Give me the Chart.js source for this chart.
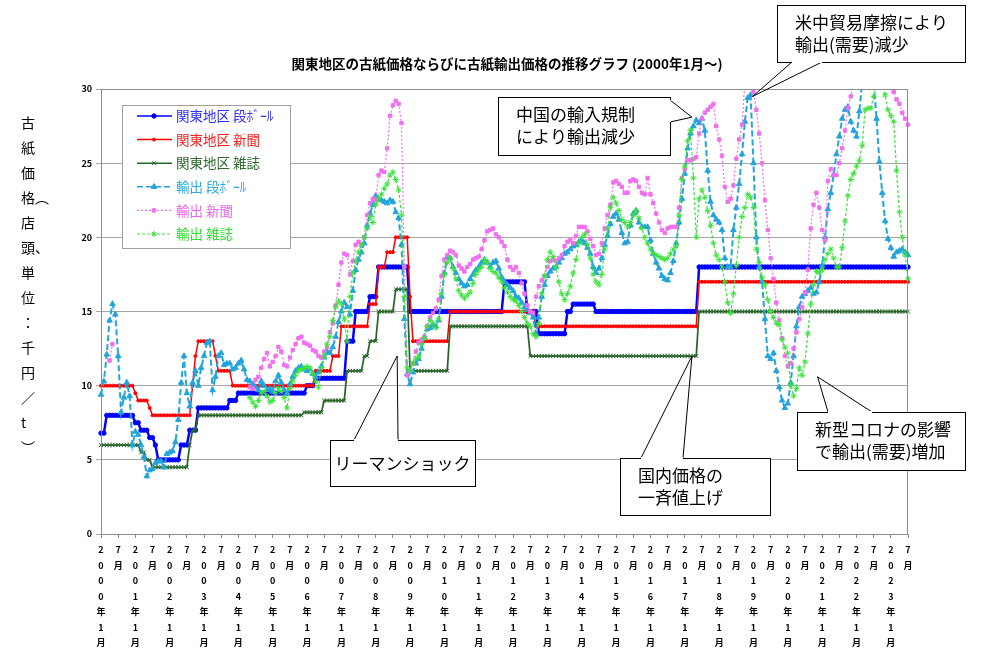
<!DOCTYPE html>
<html>
<head>
<meta charset="utf-8">
<script src="https://cdn.jsdelivr.net/npm/chart.js@4.4.0/dist/chart.umd.min.js"></script>
<style>
html, body { margin: 0; padding: 0; background: #fff; }
#wrap { width: 983px; height: 650px; position: relative; }
</style>
</head>
<body>
<div id="wrap"><canvas id="paper"></canvas></div>
<script>
// monthly categories 2000年1月 .. 2023年7月
var months = [];
for (var i = 0; i < 283; i++) {
  months.push((2000 + Math.floor(i / 12)) + '年' + (i % 12 + 1) + '月');
}
var yTicks = [0, 5, 10, 15, 20, 25, 30];

var kantoDan = [
  6.8,6.8,8,8,8,8,8,8,8,8,8,8,
  7.5,7.5,7,7,7,6.5,6.5,6,5,5,5,5,
  5,5,5,5,6,6,6,7,7,7,8.5,8.5,
  8.5,8.5,8.5,8.5,8.5,8.5,8.5,8.5,8.5,9,9,9,
  9.5,9.5,9.5,9.5,9.5,9.5,9.5,9.5,9.5,9.5,9.5,9.5,
  9.5,9.5,9.5,9.5,9.5,9.5,9.5,9.5,9.5,9.5,9.5,9.5,
  10,10,10,10.5,10.5,10.5,10.5,10.5,10.5,10.5,10.5,10.5,
  10.5,10.5,13,13,13,15,15,15,15,15,16,16,
  16,18,18,18,18,18,18,18,18,18,18,18,
  15,15,15,15,15,15,15,15,15,15,15,15,
  15,15,15,15,15,15,15,15,15,15,15,15,
  15,15,15,15,15,15,15,15,15,17,17,17,
  17,17,17,17,17,15,15,15,15,13.5,13.5,13.5,
  13.5,13.5,13.5,13.5,13.5,13.5,13.5,15,15,15.5,15.5,15.5,
  15.5,15.5,15.5,15.5,15.5,15,15,15,15,15,15,15,
  15,15,15,15,15,15,15,15,15,15,15,15,
  15,15,15,15,15,15,15,15,15,15,15,15,
  15,15,15,15,15,18,18,18,18,18,18,18,
  18,18,18,18,18,18,18,18,18,18,18,18,
  18,18,18,18,18,18,18,18,18,18,18,18,
  18,18,18,18,18,18,18,18,18,18,18,18,
  18,18,18,18,18,18,18,18,18,18,18,18,
  18,18,18,18,18,18,18,18,18,18,18,18,
  18,18,18,18,18,18,18
];
var kantoNews = [
  10,10,10,10,10,10,10,10,10,10,10,10,
  9.5,9,9,9,9,8.5,8,8,8,8,8,8,
  8,8,8,8,8,8,8,8,10,12,13,13,
  13,13,13,13,12,11,11,11,11,11,10,10,
  10,10,10,10,10,10,10,10,10,10,10,10,
  10,10,10,10,10,10,10,10,10,10,10,10,
  10,10,10,11,11,11,11,11,11,12,12,12,
  14,14,14,14,14,14,14,14,14,14,15.5,15.5,
  15.5,18,18,18,19,19,19,20,20,20,20,20,
  16,13,13,13,13,13,13,13,13,13,13,13,
  13,13,15,15,15,15,15,15,15,15,15,15,
  15,15,15,15,15,15,15,15,15,15,15,15,
  15,15,15,15,15,15,15,15,14,14,14,14,
  14,14,14,14,14,14,14,14,14,14,14,14,
  14,14,14,14,14,14,14,14,14,14,14,14,
  14,14,14,14,14,14,14,14,14,14,14,14,
  14,14,14,14,14,14,14,14,14,14,14,14,
  14,14,14,14,14,17,17,17,17,17,17,17,
  17,17,17,17,17,17,17,17,17,17,17,17,
  17,17,17,17,17,17,17,17,17,17,17,17,
  17,17,17,17,17,17,17,17,17,17,17,17,
  17,17,17,17,17,17,17,17,17,17,17,17,
  17,17,17,17,17,17,17,17,17,17,17,17,
  17,17,17,17,17,17,17
];
var kantoMag = [
  6,6,6,6,6,6,6,6,6,6,6,6,
  6,6,5.5,5.5,5,5,4.5,4.5,4.5,4.5,4.5,4.5,
  4.5,4.5,4.5,4.5,4.5,4.5,4.5,6,7,7,8,8,
  8,8,8,8,8,8,8,8,8,8,8,8,
  8,8,8,8,8,8,8,8,8,8,8,8,
  8,8,8,8,8,8,8,8,8,8,8,8.2,
  8.2,8.2,8.2,8.2,8.2,8.2,9,9,9,9,9,9,
  9,9,11,11,11,11,11,11,12,12,13,13,
  13,15,15,15,15,15,15,16.5,16.5,16.5,16.5,16.5,
  11,11,11,11,11,11,11,11,11,11,11,11,
  11,11,14,14,14,14,14,14,14,14,14,14,
  14,14,14,14,14,14,14,14,14,14,14,14,
  14,14,14,14,14,14,12,12,12,12,12,12,
  12,12,12,12,12,12,12,12,12,12,12,12,
  12,12,12,12,12,12,12,12,12,12,12,12,
  12,12,12,12,12,12,12,12,12,12,12,12,
  12,12,12,12,12,12,12,12,12,12,12,12,
  12,12,12,12,12,15,15,15,15,15,15,15,
  15,15,15,15,15,15,15,15,15,15,15,15,
  15,15,15,15,15,15,15,15,15,15,15,15,
  15,15,15,15,15,15,15,15,15,15,15,15,
  15,15,15,15,15,15,15,15,15,15,15,15,
  15,15,15,15,15,15,15,15,15,15,15,15,
  15,15,15,15,15,15,15
];
var exportDan = [
  9.4,10.3,12.1,14.4,15.5,14.8,12.0,8.2,9.2,10.2,9.3,6.0,
  6.9,6.7,6.0,5.2,3.9,4.3,4.4,4.8,4.9,4.9,4.5,5.4,
  5.5,5.6,6.2,7.7,10.2,12.0,9.5,8.6,10.2,11.0,10.0,11.2,
  12.0,12.9,13.0,9.7,10.6,12.0,12.2,11.4,11.5,11.5,11.1,11.2,
  11.5,11.7,11.1,10.4,10.3,10.1,9.9,9.7,10.3,10.0,9.7,9.8,
  9.6,10.3,10.7,10.2,9.7,9.5,10.1,10.6,11.0,11.2,11.3,11.1,
  11.0,11.1,10.8,10.6,10.9,11.3,11.9,12.3,12.2,12.6,13.3,14.3,
  15.0,15.6,15.3,14.8,16.4,17.8,18.5,19.0,19.6,20.8,21.6,22.2,
  22.8,22.6,22.5,22.4,22.3,22.5,22.4,21.7,21.3,19.5,14.5,10.8,
  10.1,10.9,11.5,11.8,12.5,13.3,13.8,13.9,14.1,14.0,14.4,16.0,
  17.6,18.7,18.6,18.0,17.6,17.2,16.9,16.7,16.8,17.2,17.5,17.8,
  18.0,18.3,18.5,18.3,18.0,18.3,18.4,17.9,17.3,17.0,16.8,16.6,
  16.4,16.0,15.9,15.6,15.3,15.1,14.9,14.6,13.5,14.6,16.0,16.8,
  17.4,17.7,17.9,18.0,18.3,18.6,18.9,19.0,19.2,19.4,19.5,19.7,
  19.8,19.6,19.3,18.9,18.0,17.6,17.9,18.6,19.5,20.1,20.9,21.4,
  21.6,21.2,20.3,19.6,19.7,20.8,21.6,21.8,21.0,20.7,20.7,20.7,
  19.8,18.9,18.3,17.9,17.4,17.2,17.1,17.6,18.4,19.6,21.0,22.6,
  24.3,26.0,27.0,27.5,27.9,27.7,28.0,27.2,24.5,22.4,21.5,21.2,
  21.0,20.5,18.6,18.0,18.0,20.5,22.0,23.6,25.6,27.8,29.4,29.6,
  25.0,20.0,18.0,17.0,14.5,12.0,11.8,12.2,11.0,9.9,9.0,8.5,
  8.8,10.2,12.0,14.0,15.3,16.0,16.2,16.4,16.6,16.2,16.3,17.0,
  18.1,20.0,21.9,23.0,24.2,25.6,26.8,28.0,28.6,28.8,27.8,27.2,
  26.8,28.5,30.5,31.5,31.8,31.0,30.5,28.0,25.1,23.0,21.1,19.9,
  19.3,18.7,19.0,19.1,19.2,19.0,18.8
];
var N = null;
var exportNews = [
  N,N,N,11.7,12.8,N,N,N,N,N,N,N,
  N,N,N,N,N,N,N,N,N,N,N,N,
  N,N,N,N,N,N,N,N,N,N,N,N,
  N,N,N,N,N,N,N,N,N,N,N,N,
  N,N,N,N,9.9,9.8,10.4,10.6,11.2,11.8,12.2,11.3,
  11.6,12.0,12.6,12.3,11.4,11.3,11.9,12.4,12.8,13.2,13.3,12.9,
  12.8,12.7,12.4,12.3,12.0,11.9,12.3,12.6,13.6,14.2,15.4,16.8,
  18.3,18.9,18.8,17.5,18.4,19.5,19.7,19.5,20.0,21.5,22.3,22.6,
  22.5,24.2,24.5,24.4,26.0,28.2,28.9,29.2,29.0,27.7,18.0,10.7,
  11.0,11.5,12.3,12.9,13.1,13.3,14.0,14.6,14.9,15.2,15.8,17.4,
  18.5,18.8,19.1,19.0,18.8,18.1,17.9,17.7,18.0,18.2,18.5,18.6,
  18.7,19.2,19.8,20.4,20.5,20.6,20.2,20.0,19.7,19.4,18.5,18.0,
  17.8,18.0,17.6,16.9,16.2,15.4,15.0,14.9,16.0,16.7,17.1,17.4,
  18.0,18.4,18.5,18.4,18.6,18.8,19.4,19.7,19.8,19.6,20.1,20.7,
  20.7,20.7,20.4,19.9,19.4,18.8,18.9,19.6,20.6,21.5,22.2,23.7,
  23.8,23.6,23.4,23.0,23.0,23.8,23.9,23.8,23.4,23.0,22.9,24.0,
  22.9,22.3,21.6,21.0,20.5,20.3,20.6,20.7,20.7,20.7,22.0,24.0,
  24.6,25.2,25.2,25.3,25.4,27.0,28.0,28.4,28.6,28.8,29.0,27.5,
  26.6,25.5,23.4,22.4,22.6,23.5,25.3,26.6,27.6,30.5,31.0,30.6,
  29.8,28.6,27.0,25.0,22.5,20.5,18.6,17.2,15.6,14.4,13.2,12.0,
  11.3,11.5,12.5,13.6,14.5,15.3,16.3,17.8,20.6,22.2,23.0,22.0,
  20.5,19.8,23.8,24.6,24.2,24.2,25.0,26.0,27.2,28.7,29.5,30.3,
  31.0,31.5,32.0,32.0,32.0,31.5,31.0,31.0,31.0,30.8,30.5,30.3,
  30.2,29.8,29.3,29.0,28.4,28.0,27.6
];
var exportMag = [
  N,N,N,N,N,N,N,N,N,N,N,N,
  N,N,N,N,N,N,N,N,N,N,N,N,
  N,N,N,N,N,N,N,N,N,N,N,N,
  N,N,N,N,N,N,N,N,N,N,N,N,
  N,N,N,N,9.2,8.9,8.6,9.0,9.5,9.6,9.3,8.9,
  9.0,9.5,9.8,9.6,9.2,8.5,9.8,10.3,10.7,11.0,11.1,11.2,
  11.3,11.2,10.8,10.3,9.9,11.2,12.0,12.8,13.3,14.4,15.3,15.7,
  15.5,14.5,13.0,16.0,17.6,18.4,19.0,19.5,20.0,20.6,21.4,21.0,
  22.2,22.6,22.9,23.3,23.6,24.2,24.4,23.9,23.2,21.5,16.0,11.2,
  11.0,11.5,11.8,12.0,12.8,13.2,14.0,14.4,14.2,13.9,14.5,16.2,
  17.5,18.3,18.6,17.9,17.2,16.4,16.1,15.9,16.1,16.3,16.9,17.5,
  17.8,18.0,18.5,18.3,17.9,17.7,17.6,17.3,17.0,16.6,16.3,16.0,
  15.8,15.7,15.4,15.0,14.6,14.2,14.0,13.5,13.3,14.2,16.2,17.4,
  18.5,19.0,18.7,18.0,17.0,16.2,15.8,16.2,16.7,17.6,18.5,19.6,
  20.0,20.2,19.5,18.6,17.5,17.0,16.8,17.5,19.2,20.6,22.0,22.7,
  22.3,21.8,21.2,21.0,20.7,21.0,21.5,21.8,21.3,20.6,20.0,19.6,
  19.2,18.9,18.8,18.7,18.6,18.5,18.6,18.9,19.2,19.4,21.5,23.9,
  24.8,26.5,27.2,24.0,20.0,22.6,23.2,22.7,21.8,20.8,19.6,18.8,
  18.5,18.0,17.0,15.6,14.9,16.2,18.1,20.0,21.4,22.0,22.9,22.7,
  22.0,19.2,18.3,17.3,16.8,15.8,15.0,14.6,14.2,14.1,13.1,12.6,
  12.2,10.0,9.3,9.8,11.2,10.7,11.6,13.5,15.5,16.8,17.7,17.6,
  17.8,18.5,18.9,19.2,18.6,18.0,18.0,19.3,21.1,22.8,23.9,24.3,
  24.8,25.2,26.2,28.6,28.7,28.7,29.5,30.2,30.5,30.3,29.6,28.6,
  28.2,27.8,24.5,21.7,20.0,18.8,17.2
];

var FONT = '"Noto Sans CJK JP", "Noto Sans", sans-serif';

// callouts: tip given in chart values (month index, price), box in pixels
var callouts = [
  { text: ['中国の輸入規制', 'により輸出減少'], box: [498, 97, 172, 58], tip: [206.5, 28.1], base: [[670, 100], [670, 122]] },
  { text: ['米中貿易摩擦により', '輸出(需要)減少'], box: [777, 5, 188, 57], tip: [227.7, 29.5], base: [[792, 62], [822, 62]] },
  { text: ['リーマンショック'], box: [330, 440, 145, 46], tip: [103.5, 12.0], base: [[354, 440], [398, 440]] },
  { text: ['国内価格の', '一斉値上げ'], box: [620, 458, 150, 57], tip: [206.5, 12.0], base: [[641, 458], [683, 458]] },
  { text: ['新型コロナの影響', 'で輸出(需要)増加'], box: [797, 412, 168, 58], tip: [250.4, 10.6], base: [[828, 412], [872, 412]] }
];
var yTitle = ['古', '紙', '価', '格︵', '店', '頭、', '単', '位', '：', '千', '円', '／', 't', '︶'];

var decor = {
  id: 'decor',
  afterDatasetsDraw: function (chart) {
    var ctx = chart.ctx, a = chart.chartArea;
    ctx.save();
    ctx.strokeStyle = '#8c8c8c';
    ctx.lineWidth = 1;
    ctx.strokeRect(a.left + 0.5, a.top + 0.5, a.right - a.left - 1, a.bottom - a.top);

    // legend box
    ctx.fillStyle = '#fff';
    ctx.fillRect(122, 105, 168, 143);
    ctx.strokeStyle = '#a0a0a0';
    ctx.strokeRect(122.5, 105.5, 168, 143);
    chart.data.datasets.forEach(function (ds, k) {
      var y = 116 + k * 23.6;
      ctx.strokeStyle = ds.borderColor;
      ctx.lineWidth = Math.min(ds.borderWidth, 1.5);
      ctx.setLineDash(ds.borderDash || []);
      ctx.beginPath(); ctx.moveTo(137, y); ctx.lineTo(172, y); ctx.stroke();
      ctx.setLineDash([]);
      ctx.fillStyle = ds.pointBackgroundColor;
      ctx.strokeStyle = ds.pointBorderColor;
      ctx.lineWidth = 1;
      Chart.helpers.drawPoint(ctx, { pointStyle: ds.pointStyle, radius: ds.pointRadius, borderWidth: 1, rotation: 0 }, 154, y);
      ctx.fillStyle = ds.textColor;
      ctx.font = '13.5px ' + FONT;
      ctx.textAlign = 'left';
      ctx.textBaseline = 'middle';
      ctx.fillText(ds.label, 176, y);
    });
    ctx.restore();
  },
  afterDraw: function (chart) {
    var ctx = chart.ctx, xs = chart.scales.x, ys = chart.scales.y;
    ctx.save();
    // title
    ctx.fillStyle = '#000';
    ctx.font = 'bold 13.5px ' + FONT;
    ctx.textAlign = 'center';
    ctx.textBaseline = 'middle';
    ctx.fillText('関東地区の古紙価格ならびに古紙輸出価格の推移グラフ (2000年1月～)', 507, 64);
    // vertical axis title
    ctx.font = '14px ' + FONT;
    yTitle.forEach(function (ch, k) {
      ctx.textAlign = 'left';
      ctx.fillText(ch, 21, 123 + k * 25);
    });
    // callouts
    callouts.forEach(function (c) {
      var tx = xs.getPixelForValue(c.tip[0]), ty = ys.getPixelForValue(c.tip[1]);
      var b = c.box;
      ctx.fillStyle = '#fff';
      ctx.fillRect(b[0], b[1], b[2], b[3]);
      ctx.strokeStyle = '#000';
      ctx.lineWidth = 1;
      ctx.strokeRect(b[0] + 0.5, b[1] + 0.5, b[2], b[3]);
      ctx.beginPath();
      ctx.moveTo(c.base[0][0], c.base[0][1]);
      ctx.lineTo(tx, ty);
      ctx.lineTo(c.base[1][0], c.base[1][1]);
      ctx.stroke();
      ctx.strokeStyle = '#fff';
      ctx.lineWidth = 2;
      ctx.beginPath();
      ctx.moveTo(c.base[0][0], c.base[0][1]);
      ctx.lineTo(c.base[1][0], c.base[1][1]);
      ctx.stroke();
      ctx.fillStyle = '#000';
      ctx.font = '17px ' + FONT;
      ctx.textBaseline = 'middle';
      if (c.text.length === 1) {
        ctx.textAlign = 'center';
        ctx.fillText(c.text[0], b[0] + b[2] / 2, b[1] + b[3] / 2 + 1);
      } else {
        ctx.textAlign = 'left';
        c.text.forEach(function (t, k) {
          ctx.fillText(t, b[0] + 18, b[1] + 18 + k * 22);
        });
      }
    });
    ctx.restore();
  }
};

function series(label, data, color, textColor, width, dash, style, radius, order) {
  return {
    label: label, data: data, borderColor: color, backgroundColor: color,
    pointBackgroundColor: color, pointBorderColor: color, textColor: textColor,
    borderWidth: width, borderDash: dash, pointStyle: style, pointRadius: radius,
    pointBorderWidth: 1, pointHoverRadius: radius, tension: 0, fill: false, order: order
  };
}

new Chart(document.getElementById('paper'), {
  type: 'line',
  data: {
    labels: months,
    datasets: [
      series('関東地区 段ﾎﾞｰﾙ', kantoDan, '#0000ff', '#3030ff', 2.5, [], 'circle', 2.2, 6),
      series('関東地区 新聞', kantoNews, '#ff0000', '#ff2020', 1.5, [], 'circle', 1.5, 5),
      series('関東地区 雑誌', kantoMag, '#2a652a', '#2e6b2e', 1.75, [], 'crossRot', 2.8, 4),
      series('輸出 段ﾎﾞｰﾙ', exportDan, '#22a4dc', '#30a8e0', 2, [6, 3], 'triangle', 3.2, 3),
      series('輸出 新聞', exportNews, '#f070f0', '#ee66ee', 1.2, [2, 2], 'rect', 2.4, 2),
      series('輸出 雑誌', exportMag, '#3ce23c', '#33dd33', 1.2, [3, 2], 'star', 3, 1)
    ]
  },
  options: {
    responsive: true,
    maintainAspectRatio: false,
    animation: false,
    layout: { padding: { left: 0, right: 75, top: 89, bottom: 0 } },
    plugins: { legend: { display: false }, tooltip: { enabled: false }, title: { display: false } },
    scales: {
      x: {
        type: 'category',
        offset: false,
        grid: { drawOnChartArea: false, color: '#8c8c8c', tickLength: 4 },
        border: { color: '#8c8c8c' },
        ticks: {
          autoSkip: false, maxRotation: 0, minRotation: 0, padding: 4, color: '#000',
          font: { family: FONT, size: 9, weight: 'bold', lineHeight: 1.72 },
          callback: function (v, i) {
            if (i % 12 === 0) return months[i].split('');
            if (i % 12 === 6) return ['7', '月'];
            return null;
          }
        },
        afterFit: function (s) { s.height = 116; }
      },
      y: {
        min: yTicks[0], max: yTicks[yTicks.length - 1],
        afterBuildTicks: function (s) { s.ticks = yTicks.map(function (v) { return { value: v }; }); },
        grid: { color: '#a6a6a6', tickLength: 5 },
        border: { color: '#8c8c8c' },
        ticks: { padding: 4, color: '#000', font: { family: FONT, size: 9, weight: 'bold' } },
        afterFit: function (s) { s.width = 101; }
      }
    }
  },
  plugins: [decor]
});
</script>
</body>
</html>
